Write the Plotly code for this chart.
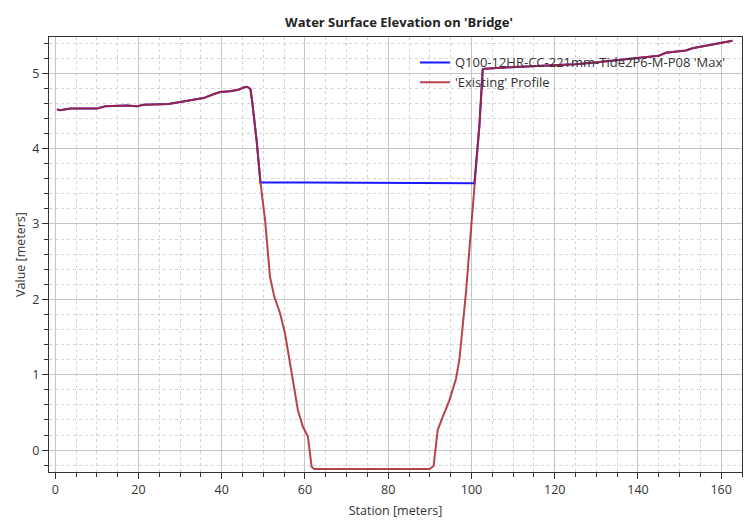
import plotly.graph_objects as go

# ---- Data ----
STATION = [0.4, 1.2, 3.6, 10.0, 12.0, 17.2, 19.6, 21.2, 27.2, 30.0, 32.4, 35.6, 38.0,
           39.6, 42.0, 44.0, 45.3, 46.1, 46.9, 47.3, 48.4, 49.3, 50.4, 51.6, 52.6,
           54.0, 55.2, 56.8, 58.3, 59.5, 60.7, 61.6, 62.2, 70.0, 80.0, 89.9, 90.9,
           91.9, 93.1, 94.7, 96.3, 97.1, 97.9, 98.7, 99.5, 100.7, 101.9, 102.7,
           103.2, 106.0, 110.0, 113.0, 117.0, 121.0, 125.0, 129.0, 133.0, 137.0,
           141.0, 145.0, 146.7, 149.0, 151.5, 153.1, 156.0, 158.0, 160.0, 162.7]
EXISTING = [4.52, 4.51, 4.53, 4.53, 4.56, 4.57, 4.56, 4.58, 4.59, 4.62, 4.64, 4.67, 4.72,
            4.75, 4.76, 4.78, 4.81, 4.82, 4.79, 4.63, 4.10, 3.55, 3.06, 2.30, 2.04,
            1.82, 1.55, 1.02, 0.53, 0.31, 0.18, -0.22, -0.25, -0.25, -0.25, -0.25, -0.21,
            0.27, 0.44, 0.66, 0.95, 1.20, 1.65, 2.10, 2.66, 3.54, 4.30, 5.05,
            5.06, 5.07, 5.08, 5.09, 5.10, 5.11, 5.12, 5.14, 5.16, 5.18,
            5.20, 5.23, 5.27, 5.28, 5.30, 5.33, 5.36, 5.39, 5.41, 5.43]

# Max water surface in the wetted section (dry elsewhere = ground)
WSE_WET_X = [49.3, 60.0, 72.0, 85.0, 100.7]
WSE_WET_Y = [3.55, 3.55, 3.548, 3.545, 3.54]

X_TICKS = [0, 20, 40, 60, 80, 100, 120, 140, 160]
Y_TICKS = [0, 1, 2, 3, 4, 5]

MAX_NAME = "Q100-12HR-CC-221mm-Tide2P6-M-P08 'Max'"
EXIST_NAME = "'Existing' Profile"

max_x = [x for x in STATION if x < WSE_WET_X[0]] + WSE_WET_X + \
        [x for x in STATION if x > WSE_WET_X[-1]]
max_y = [y for x, y in zip(STATION, EXISTING) if x < WSE_WET_X[0]] + WSE_WET_Y + \
        [y for x, y in zip(STATION, EXISTING) if x > WSE_WET_X[-1]]

FONT = "Open Sans"
TXT = "#333333"

fig = go.Figure()
fig.add_trace(go.Scatter(x=max_x, y=max_y, mode="lines", name=MAX_NAME,
                         line=dict(color="#1a1aff", width=2)))
fig.add_trace(go.Scatter(x=STATION, y=EXISTING, mode="lines", name=EXIST_NAME,
                         line=dict(color="rgba(172,36,44,0.86)", width=2)))

axis_common = dict(
    showgrid=True, gridcolor="#c6c6c6", gridwidth=1,
    ticks="outside", ticklen=6, tickcolor="#333333", tickwidth=1,
    showline=True, mirror=True, linecolor="#333333", linewidth=1,
    zeroline=False, automargin=False,
    tickfont=dict(family=FONT, size=12.5, color=TXT),
)

fig.update_layout(
    width=752, height=520,
    margin=dict(l=49, r=10, t=37, b=48),
    paper_bgcolor="white", plot_bgcolor="white",
    title=dict(text="<b>Water Surface Elevation on 'Bridge'</b>",
               x=0.505, xref="paper", xanchor="center",
               y=1 - 22 / 520, yref="container", yanchor="middle",
               font=dict(family=FONT, size=13, color="#222222")),
    xaxis=dict(range=[-1.5, 165], tickvals=X_TICKS,
               minor=dict(dtick=5, tick0=0, showgrid=True, gridcolor="#d4d4d4",
                          griddash="3px,3px", ticks="outside", ticklen=4,
                          tickcolor="#333333"),
               title=dict(text="Station [meters]", standoff=9,
                          font=dict(family=FONT, size=12.5, color=TXT)),
               **axis_common),
    yaxis=dict(range=[-0.29, 5.48], tickvals=Y_TICKS,
               minor=dict(dtick=0.2, tick0=0, showgrid=True, gridcolor="#d4d4d4",
                          griddash="3px,3px", ticks="outside", ticklen=4,
                          tickcolor="#333333"),
               title=dict(text="Value [meters]", standoff=3,
                          font=dict(family=FONT, size=12.5, color=TXT)),
               **axis_common),
    legend=dict(x=0.528, y=0.976, xanchor="left", yanchor="top",
                bgcolor="rgba(0,0,0,0)", borderwidth=0,
                font=dict(family=FONT, size=13, color=TXT),
                tracegroupgap=0),
    showlegend=True,
)

fig.write_html("out.html")
